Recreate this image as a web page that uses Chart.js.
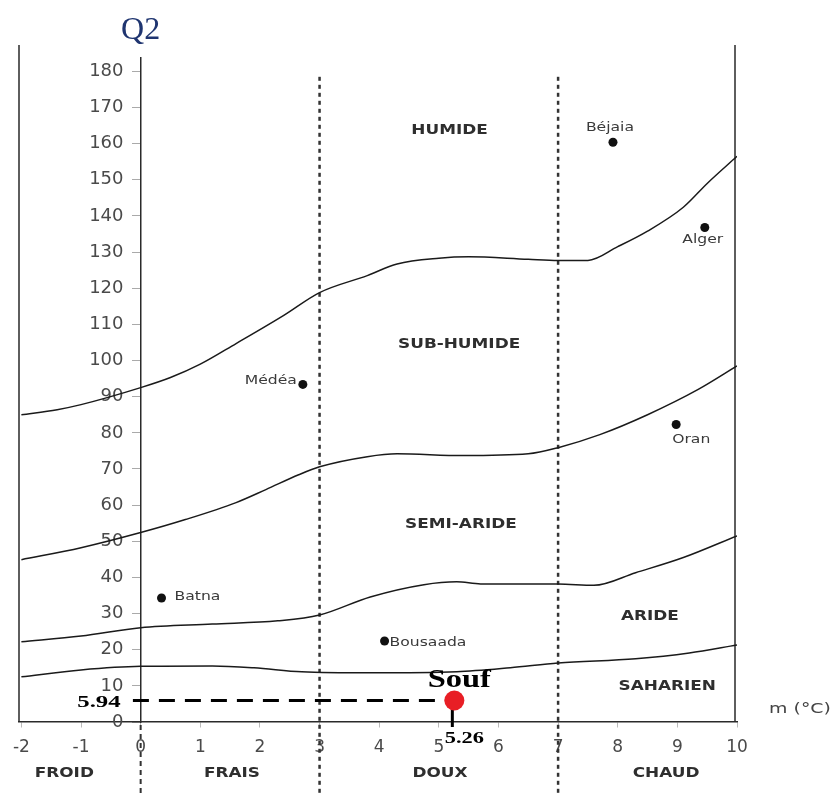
<!DOCTYPE html>
<html>
<head>
<meta charset="utf-8">
<script src="https://cdn.jsdelivr.net/npm/chart.js@4.4.1/dist/chart.umd.min.js"></script>
<style>
  html, body { margin: 0; padding: 0; background: #fff; }
  #chart { display: block; }
</style>
</head>
<body>
<canvas id="chart" width="833" height="795"></canvas>
<script>
// axis ticks
const xTicks = [-2, -1, 0, 1, 2, 3, 4, 5, 6, 7, 8, 9, 10];
const yTicks = [0, 10, 20, 30, 40, 50, 60, 70, 80, 90, 100, 110, 120, 130, 140, 150, 160, 170, 180];

// boundary curves (m, Q2)
const humideX = [-2, -1.4, -1, 0, 0.5, 1, 1.6, 2.4, 3, 3.8, 4.3, 5, 5.5, 6.5, 7, 7.5, 8, 8.5, 9.1, 9.5, 10];
const humideQ = [85, 86.4, 87.8, 92.5, 95.3, 99, 104.7, 112.5, 118.8, 123.5, 126.7, 128.3, 128.7, 128, 127.7, 127.7, 131.5, 135.8, 142.4, 149, 156.5];

const subHumideX = [-2, -1, 0, 0.75, 1.6, 2.1, 2.65, 3, 3.8, 4.3, 5.4, 6.5, 7, 7.7, 8.5, 9.35, 10];
const subHumideQ = [44.9, 48.2, 52.4, 56, 60.7, 64.3, 68.4, 70.6, 73.4, 74.2, 73.7, 74.2, 75.9, 79.5, 85, 92, 98.5];

const semiArideX = [-2, -1, 0, 1.2, 2.3, 3, 3.85, 4.75, 5.3, 5.7, 7, 7.6, 8.3, 9.1, 10];
const semiArideQ = [22.2, 23.8, 26.1, 27.1, 28, 29.6, 34.6, 38, 38.8, 38.2, 38.2, 37.8, 41.3, 45.5, 51.5];

const arideX = [-2, -1, 0, 1.2, 1.9, 2.7, 3.85, 5.3, 6.2, 7, 8.3, 9.2, 10];
const arideQ = [12.5, 14.4, 15.4, 15.5, 15, 13.9, 13.6, 13.9, 15, 16.3, 17.5, 19.1, 21.3];

// stations
const stationNames = ['Béjaia', 'Alger', 'Médéa', 'Oran', 'Batna', 'Bousaada'];
const stationM = [7.92, 9.46, 2.72, 8.98, 0.35, 4.09];
const stationQ = [160.4, 136.8, 93.4, 82.3, 34.3, 22.4];

// studied station
const soufName = 'Souf';
const soufM = [5.26];
const soufQ = [5.94];

// labels
const zoneNames = ['HUMIDE', 'SUB-HUMIDE', 'SEMI-ARIDE', 'ARIDE', 'SAHARIEN'];
const zoneAt = [[5.18, 163.7], [5.34, 104.4], [5.37, 54.6], [8.54, 29.1], [8.83, 9.7]];
const classNames = ['FROID', 'FRAIS', 'DOUX', 'CHAUD'];
const classAt = [-1.28, 1.53, 5.02, 8.81];
const classLimits = [3, 7];

// label offsets for stations: dx, dy, align
const stationLabelPos = [[-3, -14, 'center'], [-2, 12, 'center'], [-6, -4, 'right'], [-4, 15, 'left'], [13, -1, 'left'], [5, 2, 'left']];

function toPts(xs, ys) {
    return xs.map((x, i) => ({ x: x, y: ys[i] }));
}

function stretchText(ctx, text, x, y, font, color, align, sx) {
    ctx.save();
    ctx.font = font;
    ctx.fillStyle = color;
    ctx.textAlign = align;
    ctx.textBaseline = 'middle';
    ctx.translate(x, y);
    ctx.scale(sx, 1);
    ctx.fillText(text, 0, 0);
    ctx.restore();
}

const curveStyle = {
    showLine: true,
    borderColor: '#1a1a1a',
    borderWidth: 1.5,
    pointRadius: 0,
    cubicInterpolationMode: 'monotone',
    fill: false
};

const decor = {
    id: 'decor',
    beforeDraw(chart) {
        const ctx = chart.ctx;
        ctx.save();
        ctx.fillStyle = '#fff';
        ctx.fillRect(0, 0, chart.width, chart.height);
        ctx.restore();
    },
    beforeDatasetsDraw(chart) {
        const ctx = chart.ctx;
        const xs = chart.scales.x, ys = chart.scales.y;
        const area = chart.chartArea;
        const y0 = ys.getPixelForValue(0);
        ctx.save();
        // frame sides
        ctx.strokeStyle = '#2a2a2a';
        ctx.lineWidth = 1.5;
        ctx.beginPath();
        ctx.moveTo(area.left, area.top - 13);
        ctx.lineTo(area.left, y0);
        ctx.moveTo(area.right - 2, area.top - 13);
        ctx.lineTo(area.right - 2, y0);
        ctx.stroke();
        // class limits
        ctx.strokeStyle = '#333';
        ctx.lineWidth = 2.5;
        ctx.setLineDash([4, 4]);
        classLimits.forEach(v => {
            const px = xs.getPixelForValue(v);
            ctx.beginPath();
            ctx.moveTo(px, ys.getPixelForValue(178.5));
            ctx.lineTo(px, chart.height);
            ctx.stroke();
        });
        // y axis below zero
        ctx.lineWidth = 2;
        ctx.setLineDash([5, 4]);
        const px0 = xs.getPixelForValue(0);
        ctx.beginPath();
        ctx.moveTo(px0, y0 + 3);
        ctx.lineTo(px0, chart.height);
        ctx.stroke();
        // Souf guide lines
        const sx = xs.getPixelForValue(soufM[0]);
        const sy = ys.getPixelForValue(soufQ[0]);
        ctx.strokeStyle = '#000';
        ctx.lineWidth = 3;
        ctx.setLineDash([16, 10]);
        ctx.beginPath();
        ctx.moveTo(xs.getPixelForValue(-0.13), sy);
        ctx.lineTo(sx, sy);
        ctx.stroke();
        ctx.setLineDash([]);
        ctx.beginPath();
        ctx.moveTo(sx - 2, sy + 8);
        ctx.lineTo(sx - 2, y0 + 5);
        ctx.stroke();
        ctx.restore();
    },
    afterDatasetsDraw(chart) {
        const ctx = chart.ctx;
        const xs = chart.scales.x, ys = chart.scales.y;
        const area = chart.chartArea;
        const y0 = ys.getPixelForValue(0);
        const sans = '"DejaVu Sans", sans-serif';
        const serif = '"Liberation Serif", "Times New Roman", serif';

        zoneNames.forEach((t, i) => {
            stretchText(ctx, t, xs.getPixelForValue(zoneAt[i][0]), ys.getPixelForValue(zoneAt[i][1]),
                'bold 13.5px ' + sans, '#2e2e2e', 'center', 1.25);
        });
        classNames.forEach((t, i) => {
            stretchText(ctx, t, xs.getPixelForValue(classAt[i]), y0 + 51,
                'bold 13.5px ' + sans, '#2e2e2e', 'center', 1.25);
        });
        stationNames.forEach((t, i) => {
            const p = stationLabelPos[i];
            stretchText(ctx, t, xs.getPixelForValue(stationM[i]) + p[0], ys.getPixelForValue(stationQ[i]) + p[1],
                '12px ' + sans, '#3a3a3a', p[2], 1.3);
        });
        stretchText(ctx, 'm (°C)', area.right + 63, y0 - 13, '14px ' + sans, '#444', 'center', 1.35);

        const sx = xs.getPixelForValue(soufM[0]);
        const sy = ys.getPixelForValue(soufQ[0]);
        stretchText(ctx, soufName, sx + 5, sy - 20, 'bold 26px ' + serif, '#000', 'center', 1.25);
        stretchText(ctx, soufM[0].toFixed(2), sx + 10, y0 + 17, 'bold 16px ' + serif, '#000', 'center', 1.4);
        stretchText(ctx, soufQ[0].toFixed(2), xs.getPixelForValue(0) - 20, sy + 2, 'bold 16px ' + serif, '#000', 'right', 1.55);

        stretchText(ctx, 'Q2', xs.getPixelForValue(0), 31, '32px ' + serif, '#1f3570', 'center', 1.0);
    }
};

new Chart(document.getElementById('chart'), {
    type: 'scatter',
    data: {
        datasets: [
            Object.assign({ label: 'humide', data: toPts(humideX, humideQ) }, curveStyle),
            Object.assign({ label: 'sub-humide', data: toPts(subHumideX, subHumideQ) }, curveStyle),
            Object.assign({ label: 'semi-aride', data: toPts(semiArideX, semiArideQ) }, curveStyle),
            Object.assign({ label: 'aride', data: toPts(arideX, arideQ) }, curveStyle),
            {
                label: 'stations',
                data: toPts(stationM, stationQ),
                pointRadius: 4.5,
                pointBackgroundColor: '#111',
                pointBorderWidth: 0
            },
            {
                label: soufName,
                data: toPts(soufM, soufQ),
                pointRadius: 10,
                pointBackgroundColor: '#e81e25',
                pointBorderWidth: 0
            }
        ]
    },
    options: {
        responsive: false,
        animation: false,
        events: [],
        layout: { padding: { left: 19, right: 96, top: 58, bottom: 73 } },
        plugins: { legend: { display: false }, tooltip: { enabled: false } },
        scales: {
            x: {
                type: 'linear',
                position: { y: 0 },
                min: -2.04,
                max: 10,
                afterBuildTicks: s => { s.ticks = xTicks.map(v => ({ value: v })); },
                grid: { drawOnChartArea: false, drawTicks: true, tickLength: 5, color: '#bbb' },
                border: { display: true, color: '#2a2a2a', width: 1.5 },
                ticks: {
                    color: '#4a4a4a',
                    padding: 10,
                    maxRotation: 0,
                    autoSkip: false,
                    font: { family: '"DejaVu Sans", sans-serif', size: 17 }
                }
            },
            y: {
                type: 'linear',
                position: { x: 0 },
                min: 0,
                max: 183.7,
                afterBuildTicks: s => { s.ticks = yTicks.map(v => ({ value: v })); },
                grid: { drawOnChartArea: false, drawTicks: true, tickLength: 8, color: '#aaa' },
                border: { display: true, color: '#2a2a2a', width: 1.5 },
                ticks: {
                    color: '#4a4a4a',
                    autoSkip: false,
                    // labels sit left of the inner axis; pad with spaces to clear the tick marks
                    callback: v => v + '   ',
                    font: { family: '"DejaVu Sans", sans-serif', size: 18 }
                }
            }
        }
    },
    plugins: [decor]
});
</script>
</body>
</html>
